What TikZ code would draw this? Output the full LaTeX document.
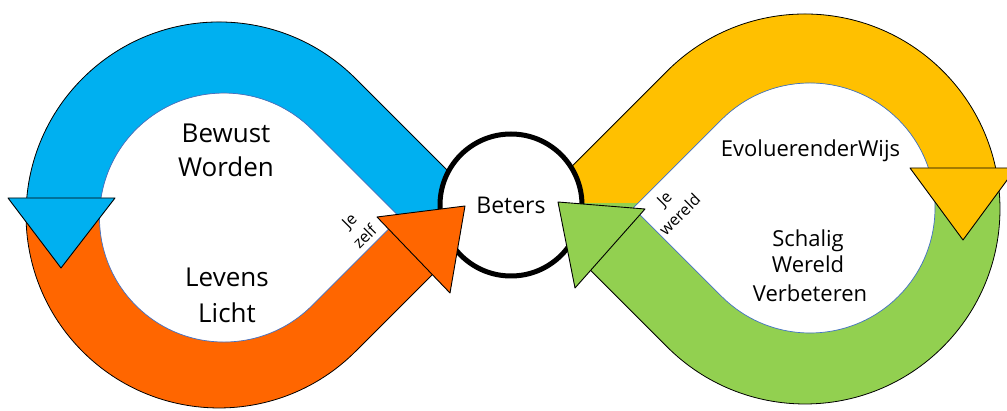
\documentclass[tikz,border=0pt]{standalone}
\usepackage{fontspec}
\setmainfont{Open Sans}
\usepackage{tikz}
\usetikzlibrary{arrows.meta}
\definecolor{zelfblauw}{HTML}{00B0F0}
\definecolor{zelforanje}{HTML}{FF6600}
\definecolor{wereldgeel}{HTML}{FFC000}
\definecolor{wereldgroen}{HTML}{92D050}
\definecolor{binnenrand}{HTML}{4472C4}

\begin{document}
\begin{tikzpicture}[x=1pt,y=1pt,line join=round,
  buitenlijn/.style={draw=black,line width=0.8pt},
  binnenlijn/.style={draw=binnenrand,line width=0.7pt},
  pijlpunt/.style={draw=black,line width=0.9pt},
  grotetekst/.style={font=\fontsize{26}{30}\selectfont,anchor=base},
  middeltekst/.style={font=\fontsize{22}{26}\selectfont,anchor=base},
  kleintekst/.style={font=\fontsize{16}{22}\selectfont,align=center,rotate=45}]
\useasboundingbox (0,0) rectangle (1007,410);
\clip (0,0) rectangle (1007,410);
\fill[white] (0,0) rectangle (1007,410);
% linker lus
\fill[zelforanje,even odd rule] (492,195) -- (355.5,331.5) arc[start angle=45,end angle=315,radius=193] -- cycle
  (400,192.5) -- (312,280.5) arc[start angle=45,end angle=315,radius=124.5] -- cycle;
\fill[zelfblauw] (492,195) -- (355.5,331.5) arc[start angle=45,end angle=175,radius=193]
  -- (101,212) arc[start angle=171,end angle=45,radius=124.5] -- (400,192.5) -- cycle;
\path[buitenlijn] (492,195) -- (355.5,331.5) arc[start angle=45,end angle=315,radius=193] -- cycle;
\path[binnenlijn] (400,192.5) -- (312,280.5) arc[start angle=45,end angle=315,radius=124.5] -- cycle;
% rechter lus
\fill[wereldgroen,even odd rule] (529.2,201) -- (667.1,338.9) arc[start angle=135,end angle=-135,radius=195] -- cycle
  (633.2,202) -- (721.6,290.4) arc[start angle=135,end angle=-135,radius=125] -- cycle;
\fill[wereldgeel] (535.2,207) -- (667.1,338.9) arc[start angle=135,end angle=12.1,radius=195]
  -- (928.4,242.1) arc[start angle=18.7,end angle=135,radius=125] -- (638.2,207) -- cycle;
\path[buitenlijn] (529.2,201) -- (667.1,338.9) arc[start angle=135,end angle=-135,radius=195] -- cycle;
\path[binnenlijn] (633.2,202) -- (721.6,290.4) arc[start angle=135,end angle=-135,radius=125] -- cycle;
% midden
\node[circle,draw=black,line width=5pt,fill=white,minimum size=142pt,inner sep=0pt,
  font=\fontsize{23}{27}\selectfont] (beters) at (511,205) {Beters};
% pijlpunten
\path[pijlpunt,fill=zelfblauw] (8,212) -- (115,212) -- (61,142) -- cycle;
\path[pijlpunt,fill=zelforanje] (377,193) -- (465,204) -- (450,117) -- cycle;
\path[pijlpunt,fill=wereldgeel] (910,242) -- (1016,242) -- (963,170) -- cycle;
\path[pijlpunt,fill=wereldgroen] (558,208) -- (645,201) -- (575,122) -- cycle;
% teksten
\node[grotetekst] (bewust) at (226,267) {Bewust};
\node[grotetekst] (worden) at (226,233) {Worden};
\node[grotetekst] (levens) at (227,123) {Levens};
\node[grotetekst] (licht) at (227,88) {Licht};
\node[middeltekst] (evoluerend) at (810.5,253) {EvoluerenderWijs};
\node[middeltekst] (schalig) at (808,163) {Schalig};
\node[middeltekst] (wereld) at (808,137) {Wereld};
\node[middeltekst] (verbeteren) at (810,108) {Verbeteren};
\node[kleintekst] (jezelf) at (357,181) {Je\\zelf};
\node[kleintekst] (jewereld) at (672,203) {Je\\wereld};
\end{tikzpicture}
\end{document}
